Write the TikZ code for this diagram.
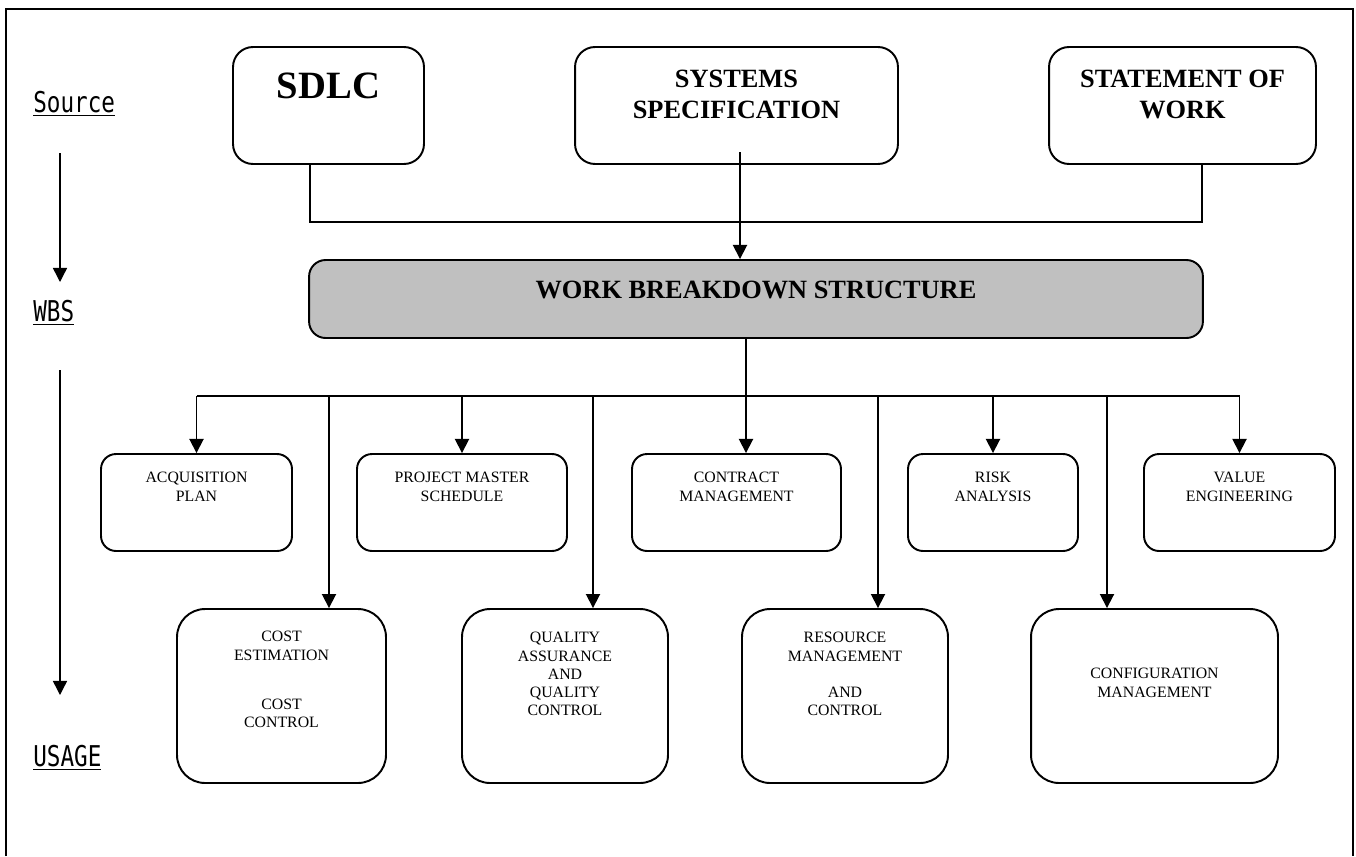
\documentclass[tikz,border=0pt]{standalone}
\usepackage{fontspec}
\setmainfont{Liberation Serif}
\newfontfamily\lblfont{DejaVu Sans Mono}
\usetikzlibrary{arrows.meta}

\definecolor{wbsgray}{HTML}{C0C0C0}

\tikzset{
  srcbox/.style={draw, line width=1.1pt, rounded corners=0.4cm, minimum height=2.34cm},
  wbsbox/.style={draw, line width=1.1pt, rounded corners=0.33cm, fill=wbsgray, minimum width=17.88cm, minimum height=1.56cm},
  usebox/.style={draw, line width=1.1pt, rounded corners=0.3cm, minimum height=1.94cm},
  bigbox/.style={draw, line width=1.1pt, rounded corners=0.56cm, minimum height=3.48cm},
  bigtxt/.style={inner sep=0pt, align=center, font=\bfseries\fontsize{15}{17.6}\selectfont},
  smalltxt/.style={inner sep=0pt, align=center, anchor=north, font=\fontsize{9}{10.4}\selectfont},
  lbl/.style={inner sep=0pt, anchor=base west},
  conn/.style={line width=1pt},
  arr/.style={-{Triangle[width=8pt,length=8pt]}}
}

\newcommand{\lbltext}[1]{\scalebox{0.79}[1]{\lblfont\fontsize{16.3}{18}\selectfont\underline{#1}}}

\begin{document}
\begin{tikzpicture}[x=0.02cm, y=-0.02cm]
\useasboundingbox (0,0) rectangle (1356,856);
\draw[line width=1.2pt] (6,856) -- (6,9) -- (1353,9) -- (1353,856);

\node[lbl] (source) at (33,112) {\lbltext{Source}};
\node[lbl] (wbslbl) at (33,321) {\lbltext{WBS}};
\node[lbl] (usage) at (33,766) {\lbltext{USAGE}};

\coordinate (a1s) at (60,153);
\coordinate (a1e) at (60,282);
\coordinate (a2s) at (60,370);
\coordinate (a2e) at (60,695);
\draw[line width=0.8pt, arr] (a1s) -- (a1e);
\draw[line width=0.8pt, arr] (a2s) -- (a2e);

\node[srcbox, minimum width=3.82cm] (sdlc) at (328.5,105.5) {};
\node[srcbox, minimum width=6.46cm] (ss) at (736.5,105.5) {};
\node[srcbox, minimum width=5.34cm] (sow) at (1182.5,105.5) {};
\node[bigtxt, font=\bfseries\fontsize{22}{24}\selectfont] (sdlc-t) at (328.5,86) {SDLC};
\node[bigtxt, anchor=north] (ss-t) at (736.5,70) {SYSTEMS\\SPECIFICATION};
\node[bigtxt, anchor=north] (sow-t) at (1182.5,70) {STATEMENT OF\\WORK};

\node[wbsbox] (wbs) at (756,299) {};
\node[bigtxt] (wbs-t) at (756,290) {WORK BREAKDOWN STRUCTURE};

\coordinate (topL) at (310,222);
\coordinate (topR) at (1202,222);
\coordinate (ssout) at (740,152);
\draw[conn] (sdlc.south -| topL) -- (topL) -- (topR) -- (sow.south -| topR);
\draw[conn, arr] (ssout) -- (wbs.north -| ssout);

\node[usebox, minimum width=3.82cm] (acq) at (196.5,502.5) {};
\node[usebox, minimum width=4.2cm] (pms) at (462,502.5) {};
\node[usebox, minimum width=4.18cm] (cm) at (736.5,502.5) {};
\node[usebox, minimum width=3.4cm] (ra) at (993,502.5) {};
\node[usebox, minimum width=3.82cm] (ve) at (1239.5,502.5) {};
\node[smalltxt] (acq-t) at (196.5,472) {ACQUISITION\\PLAN};
\node[smalltxt] (pms-t) at (462,472) {PROJECT MASTER\\SCHEDULE};
\node[smalltxt] (cm-t) at (736.5,472) {CONTRACT\\MANAGEMENT};
\node[smalltxt] (ra-t) at (993,472) {RISK\\ANALYSIS};
\node[smalltxt] (ve-t) at (1239.5,472) {VALUE\\ENGINEERING};

\node[bigbox, minimum width=4.18cm] (cost) at (281.5,696) {};
\node[bigbox, minimum width=4.12cm] (qa) at (565,696) {};
\node[bigbox, minimum width=4.12cm] (rm) at (845,696) {};
\node[bigbox, minimum width=4.94cm] (conf) at (1154.5,696) {};
\node[smalltxt] (cost-t) at (281.5,631) {COST\\ESTIMATION\\[17.5pt]COST\\CONTROL};
\node[smalltxt] (qa-t) at (565,632) {QUALITY\\ASSURANCE\\AND\\QUALITY\\CONTROL};
\node[smalltxt] (rm-t) at (845,632) {RESOURCE\\MANAGEMENT\\[10.4pt]AND\\CONTROL};
\node[smalltxt] (conf-t) at (1154.5,668) {CONFIGURATION\\MANAGEMENT};

\coordinate (wbsbus) at (746,396);
\coordinate (busL) at (196.5,396);
\coordinate (busR) at (1239.5,396);
\coordinate (c1) at (329,396);
\coordinate (c2) at (593,396);
\coordinate (c3) at (878,396);
\coordinate (c4) at (1107,396);
\draw[conn] (busL) -- (busR);
\draw[conn, arr] (wbs.south -| wbsbus) -- (cm.north -| wbsbus);
\draw[conn, arr] (busL) -- (acq.north);
\draw[conn, arr] (pms.north |- busL) -- (pms.north);
\draw[conn, arr] (ra.north |- busL) -- (ra.north);
\draw[conn, arr] (busR) -- (ve.north);
\draw[conn, arr] (c1) -- (cost.north -| c1);
\draw[conn, arr] (c2) -- (qa.north -| c2);
\draw[conn, arr] (c3) -- (rm.north -| c3);
\draw[conn, arr] (c4) -- (conf.north -| c4);

\end{tikzpicture}
\end{document}
